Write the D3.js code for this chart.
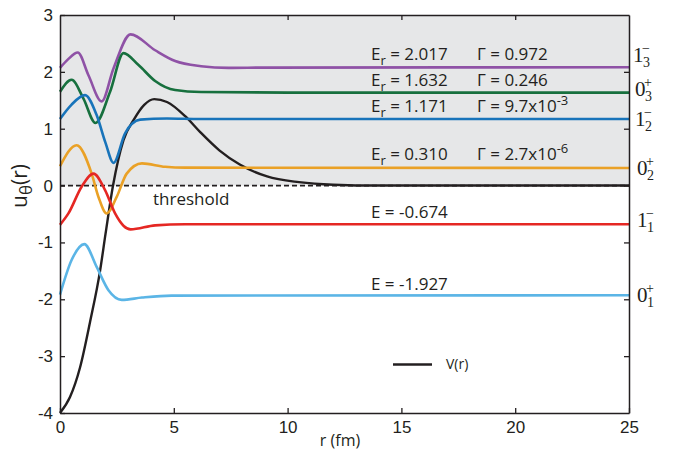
<!DOCTYPE html>
<html>
<head>
<meta charset="utf-8">
<script src="https://cdn.jsdelivr.net/npm/d3@7/dist/d3.min.js"></script>
<style>
  html, body { margin: 0; padding: 0; background: #fff; }
  svg { display: block; }
</style>
</head>
<body>
<svg id="chart" width="673" height="451"></svg>
<script>
// ---- data ----
const xTicks = [0, 5, 10, 15, 20, 25];
const yTicks = [-4, -3, -2, -1, 0, 1, 2, 3];

const potential = [[0,-4.0],[0.44,-3.72],[0.88,-3.2],[1.32,-2.4],[1.76,-1.5],[2.0,-0.85],[2.33,0],[2.79,0.80],[3.23,1.15],[3.7,1.42],[4.14,1.52],[4.7,1.47],[5.5,1.22],[6.16,0.94],[7.0,0.62],[7.9,0.37],[9.1,0.16],[10.5,0.06],[12,0.015],[14,0.0],[25,0.0]];

const wave13m = [[0,2.07],[0.35,2.22],[0.78,2.34],[1.25,1.94],[1.83,1.48],[2.35,2.06],[3.1,2.66],[4.18,2.38],[5.06,2.19],[6.2,2.10],[7.4,2.07],[9,2.075],[25,2.08]];
const wave03p = [[0,1.65],[0.51,1.86],[1.03,1.53],[1.56,1.10],[2.2,1.65],[2.79,2.33],[3.45,2.12],[4.18,1.84],[5.06,1.68],[6.2,1.645],[10,1.635],[25,1.635]];
const wave12m = [[0,1.17],[0.5,1.42],[1.1,1.59],[1.61,1.24],[2.0,0.75],[2.35,0.40],[2.86,0.92],[3.52,1.16],[4.7,1.18],[6.16,1.17],[25,1.17]];
const wave02p = [[0,0.34],[0.73,0.71],[1.39,0.21],[1.69,-0.20],[2.05,-0.49],[2.49,-0.20],[2.93,0.21],[3.6,0.39],[4.62,0.33],[5.5,0.315],[25,0.31]];
const wave11m = [[0,-0.69],[0.37,-0.49],[0.95,-0.02],[1.47,0.21],[1.98,-0.08],[2.42,-0.49],[2.8,-0.71],[3.1,-0.77],[4.18,-0.70],[5.5,-0.68],[25,-0.68]];
const wave01p = [[0,-1.92],[0.51,-1.31],[1.07,-1.03],[1.61,-1.43],[2.13,-1.84],[2.71,-2.01],[3.6,-1.97],[4.9,-1.935],[25,-1.93]];

const waveSeries = [wave13m, wave03p, wave12m, wave02p, wave11m, wave01p];
const waveColors = ["#8f52a6", "#17703e", "#1874ba", "#eaa126", "#e52723", "#5bb5e6"];

const energyTexts = [
  {sub: true, val: "2.017", g: "0.972", exp: null},
  {sub: true, val: "1.632", g: "0.246", exp: null},
  {sub: true, val: "1.171", g: "9.7x10", exp: "-3"},
  {sub: true, val: "0.310", g: "2.7x10", exp: "-6"},
  {sub: false, val: "-0.674", g: null, exp: null},
  {sub: false, val: "-1.927", g: null, exp: null}
];
const energyBaselines = [60, 86, 112, 160, 218, 290];

const stateMain = ["1", "0", "1", "0", "1", "0"];
const stateSub = ["3", "3", "2", "2", "1", "1"];
const stateSup = ["\u2212", "+", "\u2212", "+", "\u2212", "+"];
const stateBaselines = [62, 96, 126, 175, 227, 302];
const stateX = [633, 635, 635, 637, 637, 637];

// ---- layout ----
const svg = d3.select("#chart");
const x = d3.scaleLinear().domain([0, 25]).range([60, 629]);
const y = d3.scaleLinear().domain([-4, 3]).range([413, 15]);

const sansTicks = "'Liberation Sans', Arial, sans-serif";
const sans = "'Open Sans', 'Noto Sans', sans-serif";
const serif = "'Liberation Serif', 'DejaVu Serif', serif";

// gray region above threshold
svg.append("rect")
  .attr("x", x(0)).attr("y", y(3))
  .attr("width", x(25) - x(0)).attr("height", y(0) - y(3))
  .attr("fill", "#e6e7e8");

// threshold dashed line
svg.append("line")
  .attr("x1", x(0)).attr("x2", x(25))
  .attr("y1", y(0)).attr("y2", y(0))
  .attr("stroke", "#231f20").attr("stroke-width", 1.8)
  .attr("stroke-dasharray", "5,3");

const line = d3.line().x(d => x(d[0])).y(d => y(d[1])).curve(d3.curveMonotoneX);

// black potential
svg.append("path").datum(potential)
  .attr("d", line).attr("fill", "none")
  .attr("stroke", "#231f20").attr("stroke-width", 2.4);

// wavefunctions
waveSeries.forEach((s, i) => {
  svg.append("path").datum(s)
    .attr("d", line).attr("fill", "none")
    .attr("stroke", waveColors[i]).attr("stroke-width", 2.6);
});

// axes
function styleAxis(g) {
  g.select(".domain").attr("stroke", "#231f20").attr("stroke-width", 1.5);
  g.selectAll(".tick line").attr("stroke", "#231f20").attr("stroke-width", 1.3);
  g.selectAll(".tick text").attr("fill", "#231f20")
    .style("font-family", sansTicks).style("font-size", "17px");
}
const fmt = d => String(d);
svg.append("g").attr("transform", `translate(0,${y(-4)})`)
  .call(d3.axisBottom(x).tickValues(xTicks).tickSizeInner(-5).tickSizeOuter(0).tickPadding(8).tickFormat(fmt))
  .call(styleAxis);
svg.append("g").attr("transform", `translate(0,${y(3)})`)
  .call(d3.axisTop(x).tickValues(xTicks.slice(1, -1)).tickSizeInner(-5).tickSizeOuter(0).tickFormat(""))
  .call(styleAxis);
svg.append("g").attr("transform", `translate(${x(0)},0)`)
  .call(d3.axisLeft(y).tickValues(yTicks).tickSizeInner(-5).tickSizeOuter(0).tickPadding(7).tickFormat(fmt))
  .call(styleAxis);
svg.append("g").attr("transform", `translate(${x(25)},0)`)
  .call(d3.axisRight(y).tickValues(yTicks.slice(1, -1)).tickSizeInner(-5).tickSizeOuter(0).tickFormat(""))
  .call(styleAxis);

// axis titles
svg.append("text").attr("x", 340).attr("y", 446)
  .attr("text-anchor", "middle")
  .style("font-family", sans).style("font-size", "16px").attr("fill", "#231f20")
  .text("r (fm)");

const yl = svg.append("text")
  .attr("transform", "translate(27,186) rotate(-90)")
  .attr("text-anchor", "middle")
  .style("font-family", sans).style("font-size", "21px").attr("fill", "#231f20");
yl.append("tspan").text("u");
yl.append("tspan").attr("dy", 5).style("font-size", "17px").text("\u03b8");
yl.append("tspan").attr("dy", -5).text("(r)");

// threshold text
svg.append("text").attr("x", 153).attr("y", 205)
  .style("font-family", sans).style("font-size", "17px").attr("fill", "#231f20")
  .text("threshold");

// energy labels
energyTexts.forEach((e, i) => {
  const t = svg.append("text").attr("x", 371).attr("y", energyBaselines[i])
    .style("font-family", sans).style("font-size", "17px").attr("fill", "#231f20");
  t.append("tspan").text("E");
  if (e.sub) {
    t.append("tspan").attr("dy", 5).style("font-size", "13px").text("r");
    t.append("tspan").attr("dy", -5).text(" = " + e.val);
  } else {
    t.append("tspan").text(" = " + e.val);
  }
  if (e.g) {
    const g = svg.append("text").attr("x", 477).attr("y", energyBaselines[i])
      .style("font-family", sans).style("font-size", "17px").attr("fill", "#231f20");
    g.append("tspan").text("\u0393 = " + e.g);
    if (e.exp) g.append("tspan").attr("dy", -7).style("font-size", "13px").text(e.exp);
  }
});

// state labels (right side)
stateMain.forEach((m, i) => {
  const b = stateBaselines[i], sx = stateX[i];
  svg.append("text").attr("x", sx).attr("y", b)
    .style("font-family", serif).style("font-size", "21px").attr("fill", "#231f20").text(m);
  svg.append("text").attr("x", sx + 10).attr("y", b + 5)
    .style("font-family", serif).style("font-size", "14px").attr("fill", "#231f20").text(stateSub[i]);
  svg.append("text").attr("x", sx + 9).attr("y", b - 9)
    .style("font-family", serif).style("font-size", "14px").attr("fill", "#231f20").text(stateSup[i]);
});

// legend
svg.append("line").attr("x1", 393).attr("x2", 432).attr("y1", 364.5).attr("y2", 364.5)
  .attr("stroke", "#231f20").attr("stroke-width", 2.6);
svg.append("text").attr("x", 446).attr("y", 369)
  .style("font-family", sans).style("font-size", "14px").attr("fill", "#231f20")
  .text("V(r)");
</script>
</body>
</html>
